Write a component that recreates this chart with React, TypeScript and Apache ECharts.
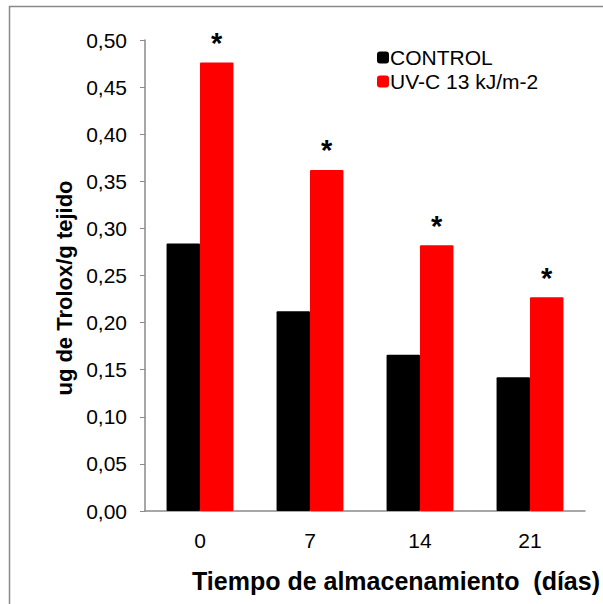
import React, { useEffect, useRef } from "react";
import * as echarts from "echarts";

const categories = ["0", "7", "14", "21"];
const controlValues = [0.284, 0.212, 0.166, 0.142];
const uvcValues = [0.476, 0.362, 0.282, 0.227];
const seriesNames = ["CONTROL", "UV-C 13 kJ/m-2"];
const yTitle = "ug de Trolox/g tejido";
const xTitle = "Tiempo de almacenamiento  (días)";

const FONT = "'Liberation Sans', Arial, sans-serif";

export default function App() {
  const ref = useRef<HTMLDivElement>(null);
  useEffect(() => {
    document.body.style.margin = "0";
    const chart = echarts.init(ref.current!, null, { renderer: "svg" });
    chart.setOption({
      animation: false,
      backgroundColor: "#ffffff",
      textStyle: { fontFamily: FONT },
      grid: { left: 145, right: 18, top: 40, bottom: 93, containLabel: false },
      legend: {
        orient: "vertical",
        left: 372,
        top: 42,
        itemWidth: 12,
        itemHeight: 12,
        itemGap: 3,
        icon: "roundRect",
        textStyle: { fontSize: 21, color: "#000", fontFamily: FONT, padding: [0, 0, 0, -4] },
        data: seriesNames,
      },
      xAxis: {
        type: "category",
        data: categories,
        axisLine: { lineStyle: { color: "#8a8a8a", width: 1.5 } },
        axisTick: { show: false },
        axisLabel: { color: "#000", fontSize: 21, margin: 19, fontFamily: FONT },
      },
      yAxis: {
        type: "value",
        min: 0,
        max: 0.5,
        interval: 0.05,
        splitLine: { show: false },
        axisLine: { show: true, lineStyle: { color: "#8a8a8a", width: 1.5 } },
        axisTick: { show: true, length: 5, lineStyle: { color: "#8a8a8a" } },
        axisLabel: {
          color: "#000",
          fontSize: 21,
          margin: 18,
          fontFamily: FONT,
          formatter: (v: number) => v.toFixed(2).replace(".", ","),
        },
      },
      series: [
        {
          name: seriesNames[0],
          type: "bar",
          data: controlValues,
          barWidth: "30.4%",
          barGap: "0%",
          itemStyle: { color: "#000000", borderRadius: 1 },
        },
        {
          name: seriesNames[1],
          type: "bar",
          data: uvcValues,
          barWidth: "30.4%",
          barGap: "0%",
          itemStyle: { color: "#ff0000", borderRadius: 1 },
          label: {
            show: true,
            position: "top",
            distance: 5,
            formatter: "*",
            fontSize: 29,
            fontWeight: "bold",
            color: "#000",
            fontFamily: FONT,
          },
        },
      ],
      graphic: [
        {
          type: "rect",
          silent: true,
          shape: { x: 9.5, y: 6.5, width: 800, height: 800 },
          style: { fill: "none", stroke: "#8a8a8a", lineWidth: 1.5 },
        },
        {
          type: "text",
          x: 64,
          y: 288,
          rotation: Math.PI / 2,
          style: {
            text: yTitle,
            fontSize: 22,
            fontWeight: "bold",
            fontFamily: FONT,
            fill: "#000",
            textAlign: "center",
            textVerticalAlign: "middle",
          },
        },
        {
          type: "text",
          x: 396,
          y: 581,
          style: {
            text: xTitle,
            fontSize: 25,
            fontWeight: "bold",
            fontFamily: FONT,
            fill: "#000",
            textAlign: "center",
            textVerticalAlign: "middle",
          },
        },
      ],
    });
    return () => chart.dispose();
  }, []);
  return <div ref={ref} style={{ width: 603, height: 604, position: "absolute", left: 0, top: 0 }} />;
}
